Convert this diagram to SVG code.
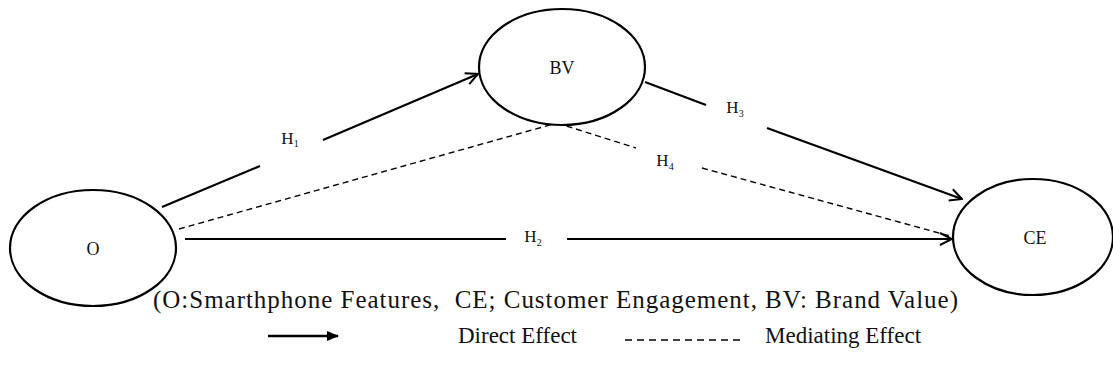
<svg xmlns="http://www.w3.org/2000/svg" width="1113" height="381" viewBox="0 0 1113 381">
<style>
.node{fill:#fff;stroke:#000;stroke-width:2.2}
.lbl{fill:#111;text-anchor:middle}
.nl{font-size:18px}
.hl{font-size:17px}
.sub{font-size:10px}
.solid{stroke:#000;stroke-width:2.2;fill:none}
.dash{stroke:#000;stroke-width:1.4;fill:none;stroke-dasharray:6,4}
.cap{font-size:23px;fill:#111}
.title{font-size:25px;fill:#111}
</style>
<defs>
<marker id="open" viewBox="0 0 14 14" refX="13" refY="7" markerWidth="14" markerHeight="14" markerUnits="userSpaceOnUse" orient="auto">
<path d="M1,1 L13,7 L1,13" fill="none" stroke="#000" stroke-width="2"/>
</marker>
<marker id="fill" viewBox="0 0 12 12" refX="11" refY="6" markerWidth="12" markerHeight="12" markerUnits="userSpaceOnUse" orient="auto">
<path d="M0,1 L12,6 L0,11 Z" fill="#000"/>
</marker>
</defs>
<g font-family="'Liberation Serif', 'Times New Roman', 'DejaVu Serif', serif">
<g id="connectors">
<line class="solid" x1="162" y1="207" x2="260" y2="166"/>
<line class="solid" x1="323" y1="140" x2="478" y2="74" marker-end="url(#open)"/>
<line class="dash" x1="179" y1="229" x2="557" y2="123"/>
<line class="solid" x1="185" y1="239" x2="506" y2="239"/>
<line class="solid" x1="567" y1="239" x2="952" y2="239" marker-end="url(#open)"/>
<line class="solid" x1="645" y1="82" x2="706" y2="105"/>
<line class="solid" x1="767" y1="128" x2="962" y2="199" marker-end="url(#open)"/>
<line class="dash" x1="557" y1="123" x2="636" y2="148"/>
<line class="dash" x1="702" y1="168" x2="950" y2="236"/>
<text class="lbl hl" x="290" y="144">H<tspan class="sub" dy="3">1</tspan></text>
<text class="lbl hl" x="533" y="242">H<tspan class="sub" dy="4">2</tspan></text>
<text class="lbl hl" x="735" y="113">H<tspan class="sub" dy="4">3</tspan></text>
<text class="lbl hl" x="665" y="166">H<tspan class="sub" dy="4">4</tspan></text>
</g>
<g id="node-BV">
<ellipse class="node" cx="562" cy="67" rx="83" ry="58"/>
<text class="lbl nl" x="562" y="74">BV</text>
</g>
<g id="node-O">
<ellipse class="node" cx="93" cy="248" rx="83" ry="58"/>
<text class="lbl nl" x="93" y="255">O</text>
</g>
<g id="node-CE">
<ellipse class="node" cx="1033" cy="237" rx="80" ry="58"/>
<text class="lbl nl" x="1035" y="244">CE</text>
</g>
<g id="legend">
<text class="title" x="153" y="308" textLength="805" lengthAdjust="spacing" xml:space="preserve">(O:Smarthphone Features,  CE; Customer Engagement, BV: Brand Value)</text>
<line x1="268" y1="336" x2="338" y2="336" stroke="#000" stroke-width="2.5" marker-end="url(#fill)"/>
<text class="cap" x="458" y="343">Direct Effect</text>
<line x1="625" y1="340" x2="740" y2="340" stroke="#000" stroke-width="1.4" stroke-dasharray="7,5"/>
<text class="cap" x="765" y="343">Mediating Effect</text>
</g>
</g>
</svg>
